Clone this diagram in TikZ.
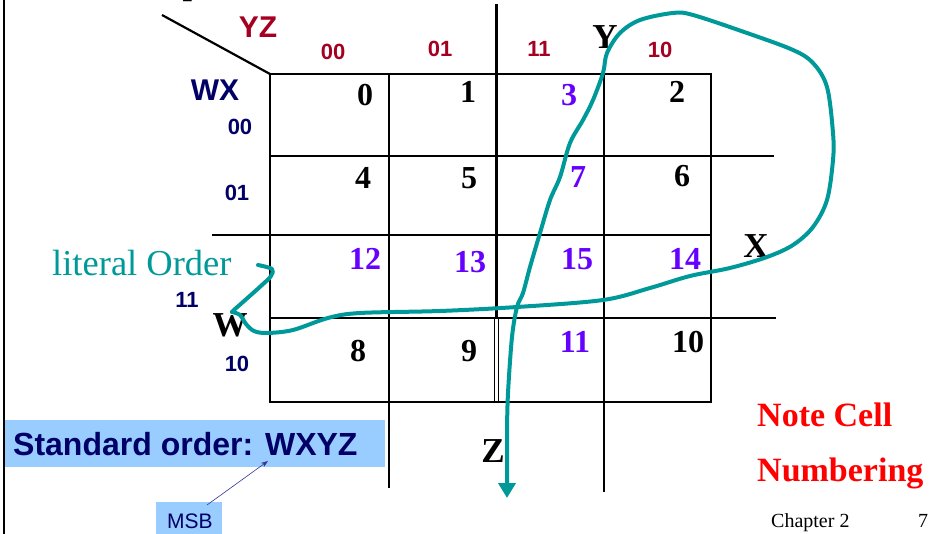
\documentclass[tikz,border=0pt]{standalone}
\usepackage{fontspec}
\setmainfont{Liberation Serif}
\setsansfont{Liberation Sans}
\usetikzlibrary{arrows.meta}
\definecolor{kmred}{RGB}{165,0,33}
\definecolor{kmnavy}{RGB}{0,0,102}
\definecolor{kmpurple}{RGB}{102,0,255}
\definecolor{kmteal}{RGB}{0,153,153}
\definecolor{kmblue}{RGB}{153,204,255}
\definecolor{kmline}{RGB}{51,51,153}
\tikzset{
  gridline/.style={line width=2.8pt, line cap=rect},
  cellnum/.style={font=\fontsize{32}{32}\selectfont\bfseries, inner sep=0pt},
  cellhi/.style={cellnum, text=kmpurple},
  varname/.style={font=\fontsize{35}{35}\selectfont\bfseries, inner sep=0pt},
  colbits/.style={font=\sffamily\bfseries\fontsize{22}{22}\selectfont, text=kmred, inner sep=0pt},
  rowbits/.style={font=\sffamily\bfseries\fontsize{22}{22}\selectfont, text=kmnavy, inner sep=0pt},
  tealpath/.style={draw=kmteal, line width=4pt, line cap=round, line join=round},
  bluebox/.style={fill=kmblue, draw=none}
}
\begin{document}
\begin{tikzpicture}[x=1pt,y=-1pt]
\useasboundingbox (0,0) rectangle (929,534);
\fill[white] (0,0) rectangle (929,534);
% left border
\draw[line width=2pt] (4,0) -- (4,534);
% clipped title fragment
\node[font=\fontsize{34}{34}\selectfont\bfseries, inner sep=0pt, anchor=base] (ttl) at (192,-5) {p};
% diagonal
\coordinate (dgA) at (162,15);
\coordinate (dgB) at (270,74);
\draw[line width=2.2pt] (dgA) -- (dgB);
% grid
\draw[gridline] (270,74) rectangle (711,402);
\draw[gridline] (389,74) -- (389,487);
\draw[gridline] (496.5,5) -- (496.5,318);
\draw[line width=1.6pt] (494.5,318) -- (494.5,402);
\draw[line width=1.6pt] (498.5,318) -- (498.5,402);
\draw[gridline] (604,74) -- (604,491);
\draw[gridline] (270,156) -- (773,156);
\draw[gridline] (213,235) -- (711,235);
\draw[gridline] (270,318) -- (775,318);
% labels
\node[font=\sffamily\bfseries\fontsize{30}{30}\selectfont, text=kmred, inner sep=0pt] (yz) at (258,27) {YZ};
\node[font=\sffamily\bfseries\fontsize{30}{30}\selectfont, text=kmnavy, inner sep=0pt] (wx) at (215,90) {WX};
\node[colbits] (c00) at (333,52) {00};
\node[colbits] (c01) at (440,49) {01};
\node[colbits] (c11) at (539,49) {11};
\node[colbits] (c10) at (660,50) {10};
\node[rowbits] (r00) at (240,127) {00};
\node[rowbits] (r01) at (237,193) {01};
\node[rowbits] (r11) at (187,300) {11};
\node[rowbits] (r10) at (237,364) {10};
% cells
\node[cellnum] (m0) at (365,95) {0};
\node[cellnum] (m1) at (468,92) {1};
\node[cellhi]  (m3) at (569,95) {3};
\node[cellnum] (m2) at (677,92) {2};
\node[cellnum] (m4) at (363,178) {4};
\node[cellnum] (m5) at (469,178) {5};
\node[cellhi]  (m7) at (578,177) {7};
\node[cellnum] (m6) at (682,176) {6};
\node[cellhi]  (m12) at (365,259) {12};
\node[cellhi]  (m13) at (470,262) {13};
\node[cellhi]  (m15) at (577,259) {15};
\node[cellhi]  (m14) at (685,259) {14};
\node[cellnum] (m8) at (358,351) {8};
\node[cellnum] (m9) at (469,351) {9};
\node[cellhi]  (m11) at (575,342) {11};
\node[cellnum] (m10) at (688,342) {10};
% variable letters
\node[varname] (vY) at (605,37) {Y};
\node[varname] (vX) at (756,246) {X};
\node[varname] (vW) at (230,325) {W};
\node[varname] (vZ) at (493,451) {Z};
% literal order
\node[font=\fontsize{36.5}{36.5}\selectfont, text=kmteal, inner sep=0pt, anchor=base west] (lit) at (52,276) {literal Order};
% teal path
\coordinate (tstart) at (258,265);
\coordinate (tcusp) at (232,312);
\coordinate (tend) at (507,498);
\draw[tealpath] plot[smooth, tension=0.55] coordinates {(258,265) (272,269) (271,276) (262,285) (243,302) (235,309) (232,312)};
\draw[tealpath, -{Triangle[width=17pt,length=15pt]}] plot[smooth, tension=0.55] coordinates {
 (232,312) (240,315) (246,324) (254,331) (267,333) (293,330) (328,318) (360,313) (440,311) (517,307) (603,300)
 (650,288) (690,276) (730,268) (767,257) (793,245) (813,227) (827,200) (833,160) (833,133) (827,87) (813,63)
 (793,50) (747,33) (693,15) (673,13) (640,20) (620,33) (607,53) (603,73) (593,100) (583,120) (570,143) (560,177)
 (550,200) (540,233) (530,267) (523,293) (517,307) (512,337) (508,393) (507,430)} -- (tend);
% standard order box
\fill[bluebox] (5,420) rectangle (385,467);
\node[font=\sffamily\bfseries\fontsize{32}{32}\selectfont, text=kmnavy, inner sep=0pt, anchor=base west] (std) at (13,455) {Standard order: WXYZ};
\coordinate (msbtip) at (268,461);
% MSB box
\node[bluebox, minimum width=66pt, minimum height=36pt, anchor=north west, inner sep=0pt] (msbbox) at (156,502) {};
\node[font=\sffamily\fontsize{21}{21}\selectfont, text=kmnavy, inner sep=0pt, anchor=base west] (msb) at (167,528) {MSB};
\draw[kmline, line width=0.6pt, -{Stealth[length=7pt,width=5pt]}] (msbbox.north -| 207,0) ++(0,3) -- (msbtip);
% note
\node[font=\fontsize{34}{34}\selectfont\bfseries, text=red, inner sep=0pt, anchor=base west] (note1) at (757,427) {Note Cell};
\node[font=\fontsize{34}{34}\selectfont\bfseries, text=red, inner sep=0pt, anchor=base west] (note2) at (757,481) {Numbering};
% footer
\node[font=\fontsize{20}{20}\selectfont, inner sep=0pt, anchor=base west] (chap) at (771,527) {Chapter 2};
\node[font=\fontsize{20}{20}\selectfont, inner sep=0pt, anchor=base west] (pg) at (918,527) {7};
\end{tikzpicture}
\end{document}
